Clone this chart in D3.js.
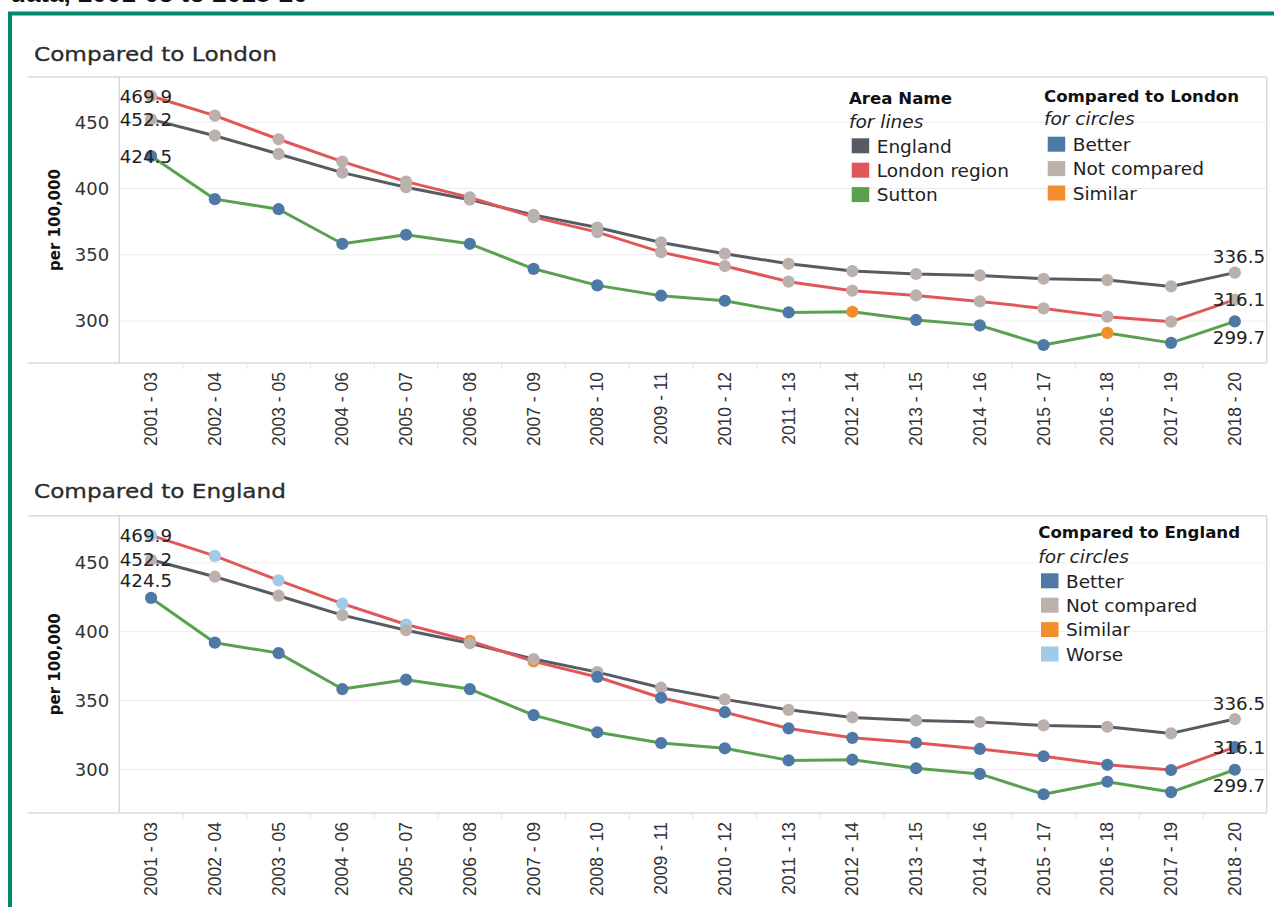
<!DOCTYPE html>
<html>
<head>
<meta charset="utf-8">
<script src="https://cdn.jsdelivr.net/npm/d3@7"></script>
<style>
  html, body { margin: 0; padding: 0; background: #fff; }
  svg { display: block; }
</style>
</head>
<body>
<div id="chart"></div>
<script>
// Rates per 100,000, three-year rolling periods
const categories = ["2001 - 03", "2002 - 04", "2003 - 05", "2004 - 06", "2005 - 07", "2006 - 08",
  "2007 - 09", "2008 - 10", "2009 - 11", "2010 - 12", "2011 - 13", "2012 - 14",
  "2013 - 15", "2014 - 16", "2015 - 17", "2016 - 18", "2017 - 19", "2018 - 20"];
const yTicks = [300, 350, 400, 450];

const englandRate = [452.2, 439.9, 426.1, 412.0, 401.0, 391.6, 380.1, 370.6, 359.3, 350.8, 343.2, 337.7, 335.5, 334.4, 331.9, 330.9, 326.1, 336.5];
const londonRate  = [469.9, 455.0, 437.2, 420.3, 405.2, 393.3, 378.4, 367.1, 352.0, 341.5, 329.7, 322.9, 319.3, 314.8, 309.5, 303.3, 299.5, 316.1];
const suttonRate  = [424.5, 392.0, 384.4, 358.3, 365.1, 358.3, 339.4, 326.9, 319.1, 315.3, 306.5, 307.0, 300.8, 296.7, 281.9, 291.0, 283.5, 299.7];

// Significance codes: B = Better, N = Not compared, S = Similar, W = Worse
const englandVsLondon = ["N","N","N","N","N","N","N","N","N","N","N","N","N","N","N","N","N","N"];
const londonVsLondon  = ["N","N","N","N","N","N","N","N","N","N","N","N","N","N","N","N","N","N"];
const suttonVsLondon  = ["B","B","B","B","B","B","B","B","B","B","B","S","B","B","B","S","B","B"];
const englandVsEngland = ["N","N","N","N","N","N","N","N","N","N","N","N","N","N","N","N","N","N"];
const londonVsEngland  = ["W","W","W","W","W","S","S","B","B","B","B","B","B","B","B","B","B","B"];
const suttonVsEngland  = ["B","B","B","B","B","B","B","B","B","B","B","B","B","B","B","B","B","B"];

const areaNames = ["England", "London region", "Sutton"];
const londonLegend = ["Better", "Not compared", "Similar"];
const englandLegend = ["Better", "Not compared", "Similar", "Worse"];

const statusName = { B: "Better", N: "Not compared", S: "Similar", W: "Worse" };
const statusColor = { "Better": "#4e79a7", "Not compared": "#bab0ac", "Similar": "#f28e2b", "Worse": "#a0cbe8" };
// Stacking order of circles, bottom to top
const statusLayer = { "Worse": 0, "Similar": 1, "Not compared": 2, "Better": 3 };
const lineColor = { "England": "#575b63", "London region": "#e15759", "Sutton": "#59a14f" };

const W = 1274, H = 907;
const FONT = "'DejaVu Sans', Verdana, sans-serif";
const AXFONT = "'Liberation Sans', Arial, sans-serif";

const svg = d3.select("#chart").append("svg")
  .attr("width", W).attr("height", H)
  .attr("viewBox", `0 0 ${W} ${H}`);

// Heading of the dashboard, mostly above the visible area
svg.append("text")
  .attr("x", 10).attr("y", 2)
  .attr("font-family", AXFONT).attr("font-weight", "bold")
  .attr("font-size", 26).attr("fill", "#111")
  .text("data, 2001-03 to 2018-20");

// Frame around the dashboard
svg.append("path")
  .attr("d", `M10,${H + 5} L10,13.5 L${W + 5},13.5`)
  .attr("fill", "none").attr("stroke", "#00896c").attr("stroke-width", 4);

const paneLeft = 119.2, paneRight = 1266.7, frameLeft = 28;
const x = d3.scaleBand().domain(categories).range([paneLeft, paneRight]).padding(0);

const panels = [
  {
    title: "Compared to London", titleY: 61, top: 77, bottom: 363,
    status: { "England": englandVsLondon, "London region": londonVsLondon, "Sutton": suttonVsLondon },
    firstPlace: { "England": 0, "London region": 0, "Sutton": 0 },
    legends: [
      { x: 849, titleY: 104, title: "Area Name", sub: "for lines", subY: 128, boxX: 851.7, boxY: 138.3,
        items: areaNames, color: d => lineColor[d] },
      { x: 1044, titleY: 101.7, title: "Compared to London", sub: "for circles", subY: 125, boxX: 1047.7, boxY: 136.7,
        items: londonLegend, color: d => statusColor[d] }
    ]
  },
  {
    title: "Compared to England", titleY: 498, top: 515.7, bottom: 813,
    status: { "England": englandVsEngland, "London region": londonVsEngland, "Sutton": suttonVsEngland },
    firstPlace: { "England": 0, "London region": 0, "Sutton": -17 },
    legends: [
      { x: 1038.3, titleY: 538.3, title: "Compared to England", sub: "for circles", subY: 563, boxX: 1041, boxY: 573.3,
        items: englandLegend, color: d => statusColor[d] }
    ]
  }
];

const lastPlace = { "England": -16, "London region": 0, "Sutton": 16 };
const rates = { "England": englandRate, "London region": londonRate, "Sutton": suttonRate };

panels.forEach(p => {
  const g = svg.append("g");
  const y = d3.scaleLinear().domain([268.3, 484.2]).range([p.bottom, p.top]);

  // Sheet title
  g.append("text")
    .attr("transform", `translate(34,${p.titleY}) scale(1.16,1)`)
    .attr("font-family", FONT).attr("font-size", 20).attr("fill", "#2b2b2b")
    .attr("stroke", "#2b2b2b").attr("stroke-width", 0.3)
    .text(p.title);

  // Gridlines
  g.append("g").selectAll("line").data(yTicks).join("line")
    .attr("x1", paneLeft).attr("x2", paneRight)
    .attr("y1", d => y(d)).attr("y2", d => y(d))
    .attr("stroke", "#ececec").attr("stroke-width", 1);

  // Pane borders
  const border = g.append("g").attr("stroke", "#d9d9d9").attr("stroke-width", 1.5);
  border.append("line").attr("x1", frameLeft).attr("x2", paneRight).attr("y1", p.top).attr("y2", p.top);
  border.append("line").attr("x1", frameLeft).attr("x2", paneRight).attr("y1", p.bottom).attr("y2", p.bottom);
  border.append("line").attr("x1", paneLeft).attr("x2", paneLeft).attr("y1", p.top).attr("y2", p.bottom);
  border.append("line").attr("x1", paneRight).attr("x2", paneRight).attr("y1", p.top).attr("y2", p.bottom);

  // Band separators below the pane
  g.append("g").selectAll("line").data(categories.slice(1)).join("line")
    .attr("x1", d => x(d)).attr("x2", d => x(d))
    .attr("y1", p.bottom).attr("y2", p.bottom + 6)
    .attr("stroke", "#e2e2e2").attr("stroke-width", 1);

  // Y axis
  const yAxis = g.append("g")
    .attr("transform", `translate(${paneLeft},0)`)
    .call(d3.axisLeft(y).tickValues(yTicks).tickSize(0).tickPadding(10));
  yAxis.select(".domain").remove();
  yAxis.selectAll("text")
    .attr("font-family", FONT).attr("font-size", 18).attr("fill", "#333");

  g.append("text")
    .attr("transform", `translate(60,${(p.top + p.bottom) / 2}) rotate(-90)`)
    .attr("text-anchor", "middle")
    .attr("font-family", FONT).attr("font-weight", "bold").attr("font-size", 15).attr("fill", "#111")
    .text("per 100,000");

  // X axis with vertical period labels
  const xAxis = g.append("g")
    .attr("transform", `translate(0,${p.bottom})`)
    .call(d3.axisBottom(x).tickSize(0).tickPadding(0));
  xAxis.select(".domain").remove();
  xAxis.selectAll("text")
    .attr("font-family", AXFONT).attr("font-size", 17.5).attr("fill", "#333")
    .attr("text-anchor", "end")
    .attr("transform", "translate(0,9) rotate(-90)")
    .attr("dx", 0).attr("dy", "0.35em").attr("y", 0);

  const cx = d => x(d) + x.bandwidth() / 2;

  // Lines
  const line = d3.line().x(d => cx(d.cat)).y(d => y(d.v));
  areaNames.forEach(name => {
    const pts = categories.map((c, i) => ({ cat: c, v: rates[name][i] }));
    g.append("path").datum(pts)
      .attr("d", line)
      .attr("fill", "none")
      .attr("stroke", lineColor[name])
      .attr("stroke-width", 3)
      .attr("stroke-linejoin", "round");
  });

  // Circles coloured by significance
  const marks = [];
  areaNames.forEach(name => {
    categories.forEach((c, i) => {
      marks.push({ cat: c, v: rates[name][i], s: statusName[p.status[name][i]] });
    });
  });
  marks.sort((a, b) => statusLayer[a.s] - statusLayer[b.s]);
  g.append("g").selectAll("circle").data(marks).join("circle")
    .attr("cx", d => cx(d.cat)).attr("cy", d => y(d.v))
    .attr("r", 6.1)
    .attr("fill", d => statusColor[d.s]);

  // End labels: first period hugs the left edge of the pane, last period the right edge
  const labels = g.append("g")
    .attr("font-family", FONT).attr("font-size", 18.3).attr("fill", "#222");
  areaNames.forEach(name => {
    const vals = rates[name];
    const last = vals.length - 1;
    labels.append("text")
      .attr("x", paneLeft + 0.5).attr("text-anchor", "start")
      .attr("y", y(vals[0]) + p.firstPlace[name]).attr("dy", "0.36em")
      .text(vals[0].toFixed(1));
    labels.append("text")
      .attr("x", paneRight - 1.5).attr("text-anchor", "end")
      .attr("y", y(vals[last]) + lastPlace[name]).attr("dy", "0.36em")
      .text(vals[last].toFixed(1));
  });

  // Legends
  p.legends.forEach(L => {
    const lg = g.append("g");
    lg.append("text").attr("x", L.x).attr("y", L.titleY)
      .attr("font-family", FONT).attr("font-weight", "bold").attr("font-size", 16.6).attr("fill", "#111")
      .text(L.title);
    lg.append("text").attr("x", L.x).attr("y", L.subY)
      .attr("font-family", FONT).attr("font-style", "italic").attr("font-size", 18.5).attr("fill", "#222")
      .text(L.sub);
    const rows = lg.selectAll("g.item").data(L.items).join("g")
      .attr("class", "item")
      .attr("transform", (d, i) => `translate(${L.boxX},${L.boxY + i * 24.4})`);
    rows.append("rect").attr("width", 17.5).attr("height", 15).attr("fill", L.color);
    rows.append("text").attr("x", 25).attr("y", 14.3)
      .attr("font-family", FONT).attr("font-size", 18.5).attr("fill", "#222")
      .text(d => d);
  });
});
</script>
</body>
</html>
